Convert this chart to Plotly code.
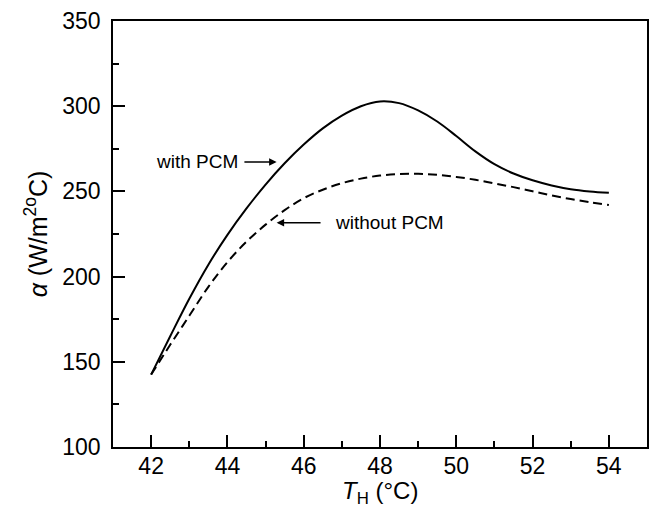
import plotly.graph_objects as go

# Data
T_H = [42, 42.5, 43, 43.5, 44, 44.5, 45, 45.5, 46, 46.5, 47, 47.5, 48,
       48.5, 49, 49.5, 50, 50.5, 51, 51.5, 52, 52.5, 53, 53.5, 54]
alpha_with_pcm = [142.5, 165, 187, 207, 224.5, 240, 254, 266.5, 277.5, 287,
                  294.5, 300, 302.8, 301.8, 297.5, 291, 282.5, 273.5, 266, 260.5,
                  256.5, 253.5, 251.3, 250, 249.2]
alpha_without_pcm = [142.5, 160, 177, 194, 208.5, 220.5, 230.5, 239, 246,
                     251, 254.8, 257.5, 259.3, 260.2, 260.3, 259.7, 258.5, 256.8,
                     254.7, 252.5, 250.1, 247.6, 245.5, 243.7, 242]

x_ticks = [42, 44, 46, 48, 50, 52, 54]
y_ticks = [100, 150, 200, 250, 300, 350]

FONT = "Liberation Sans, Arial, Helvetica, sans-serif"

fig = go.Figure()
fig.add_trace(go.Scatter(x=T_H, y=alpha_with_pcm, mode="lines",
                         line=dict(color="black", width=2, shape="spline", smoothing=1),
                         name="with PCM", showlegend=False))
fig.add_trace(go.Scatter(x=T_H, y=alpha_without_pcm, mode="lines",
                         line=dict(color="black", width=2, dash="9px,5px",
                                   shape="spline", smoothing=1),
                         name="without PCM", showlegend=False))

# labels with arrows
fig.add_annotation(x=45.29, y=267.3, ax=43.2, ay=267.3, axref="x", ayref="y",
                   text="with PCM", showarrow=True, arrowhead=2, arrowsize=1,
                   arrowwidth=1.5, arrowcolor="black", startstandoff=5,
                   font=dict(size=19, color="black", family=FONT))
fig.add_annotation(x=45.29, y=231.6, ax=48.25, ay=231.6, axref="x", ayref="y",
                   text="without PCM", showarrow=True, arrowhead=2, arrowsize=1,
                   arrowwidth=1.5, arrowcolor="black", startstandoff=13,
                   font=dict(size=19, color="black", family=FONT))

# x-axis title
fig.add_annotation(x=0.5, y=-0.1455, xref="paper", yref="paper", xanchor="center",
                   yanchor="bottom", showarrow=False, borderpad=0,
                   text="<i>T</i><sub>H</sub> (°C)",
                   font=dict(size=24, color="black", family=FONT))

fig.update_layout(
    width=653, height=510,
    margin=dict(l=113, r=4, t=21, b=63),
    paper_bgcolor="white", plot_bgcolor="white",
    font=dict(family=FONT, color="black", size=23),
    xaxis=dict(range=[41, 55], tickvals=x_ticks, ticks="inside", ticklen=12,
               tickwidth=1.5, tickcolor="black", showline=True, linecolor="black",
               linewidth=1.5, mirror=True, showgrid=False, zeroline=False,
               tickfont=dict(size=23), ticklabelstandoff=-2,
               minor=dict(dtick=1, tick0=41, ticks="inside", ticklen=6, tickwidth=1.5,
                          tickcolor="black", showgrid=False)),
    yaxis=dict(range=[100, 350], tickvals=y_ticks, ticks="inside", ticklen=12,
               tickwidth=1.5, tickcolor="black", showline=True, linecolor="black",
               linewidth=1.5, mirror=True, showgrid=False, zeroline=False,
               tickfont=dict(size=23), ticklabelstandoff=6,
               minor=dict(dtick=25, tick0=100, ticks="inside", ticklen=6, tickwidth=1.5,
                          tickcolor="black", showgrid=False),
               title=dict(text="<i>α</i> (W/m<sup>2o</sup>C)",
                          font=dict(size=25), standoff=8)),
)

fig.write_html("out.html")
